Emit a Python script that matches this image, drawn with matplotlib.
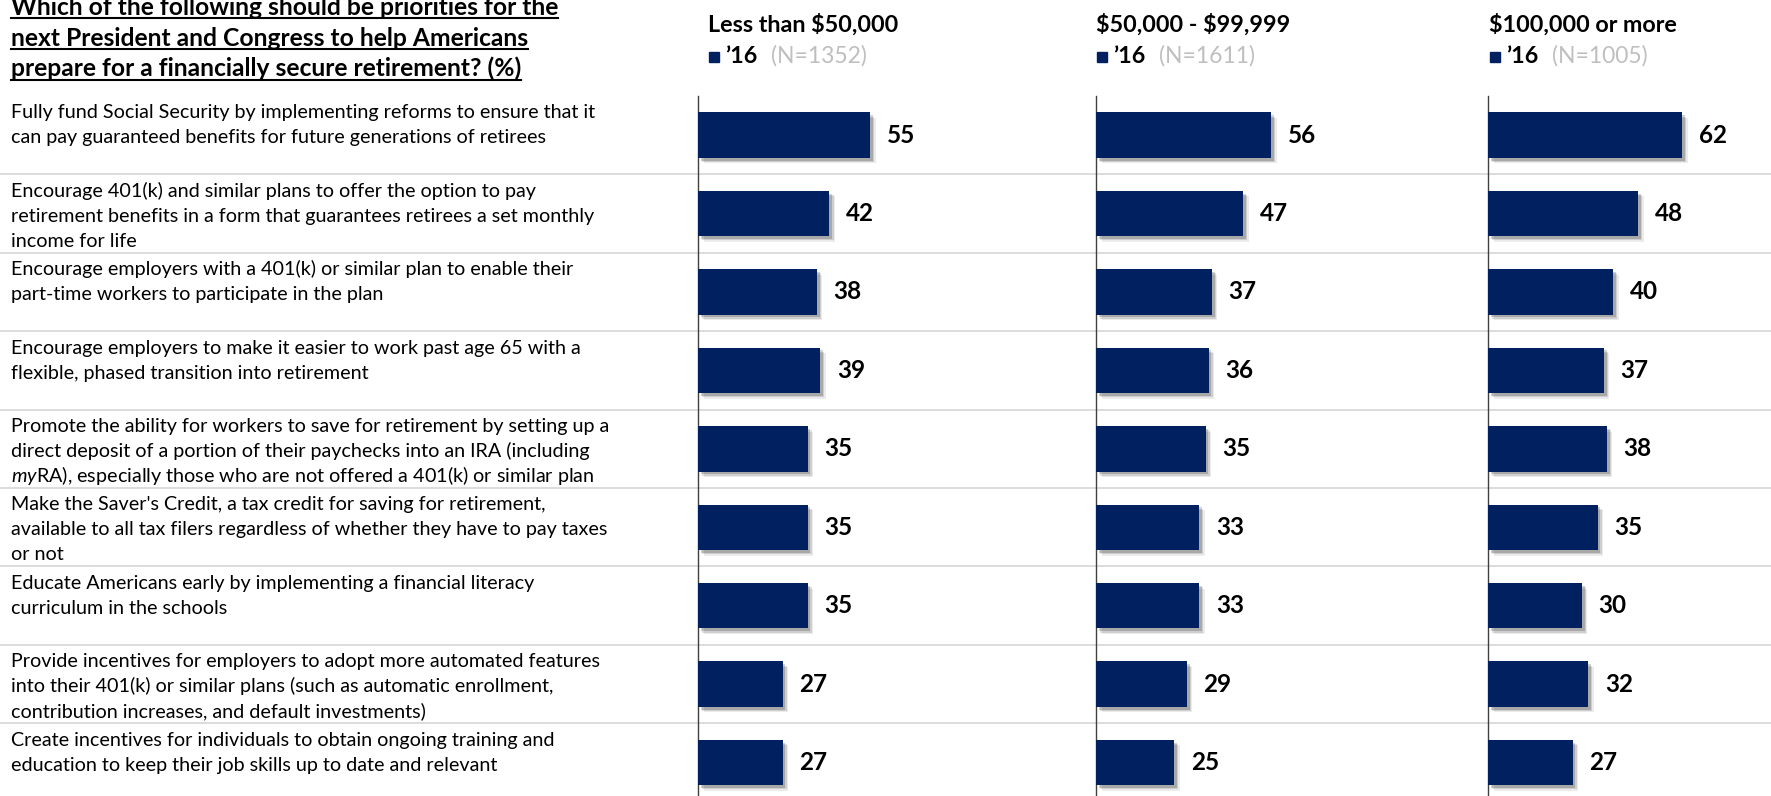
import matplotlib
matplotlib.use("Agg")
import matplotlib.pyplot as plt
import matplotlib.patheffects as pe
from matplotlib.lines import Line2D
from matplotlib.patches import Rectangle

# ---- data ----
title_lines = [
    "Which of the following should be priorities for the",
    "next President and Congress to help Americans",
    "prepare for a financially secure retirement? (%)",
]

categories = [
    "Fully fund Social Security by implementing reforms to ensure that it\ncan pay guaranteed benefits for future generations of retirees",
    "Encourage 401(k) and similar plans to offer the option to pay\nretirement benefits in a form that guarantees retirees a set monthly\nincome for life",
    "Encourage employers with a 401(k) or similar plan to enable their\npart-time workers to participate in the plan",
    "Encourage employers to make it easier to work past age 65 with a\nflexible, phased transition into retirement",
    "Promote the ability for workers to save for retirement by setting up a\ndirect deposit of a portion of their paychecks into an IRA (including\n$\\it{my}$RA), especially those who are not offered a 401(k) or similar plan",
    "Make the Saver's Credit, a tax credit for saving for retirement,\navailable to all tax filers regardless of whether they have to pay taxes\nor not",
    "Educate Americans early by implementing a financial literacy\ncurriculum in the schools",
    "Provide incentives for employers to adopt more automated features\ninto their 401(k) or similar plans (such as automatic enrollment,\ncontribution increases, and default investments)",
    "Create incentives for individuals to obtain ongoing training and\neducation to keep their job skills up to date and relevant",
]

panel_titles = ["Less than \\$50,000", "\\$50,000 - \\$99,999", "\\$100,000 or more"]
panel_year = "\u201916"
panel_n = ["(N=1352)", "(N=1611)", "(N=1005)"]

under_50k = [55, 42, 38, 39, 35, 35, 35, 27, 27]
from_50k_to_100k = [56, 47, 37, 36, 35, 33, 33, 29, 25]
over_100k = [62, 48, 40, 37, 38, 35, 30, 32, 27]
panel_values = [under_50k, from_50k_to_100k, over_100k]

# ---- styling ----
FONT = "Lato"
plt.rcParams["font.family"] = [FONT, "DejaVu Sans"]
plt.rcParams["mathtext.fontset"] = "custom"
plt.rcParams["mathtext.rm"] = FONT
plt.rcParams["mathtext.it"] = FONT + ":italic"

NAVY = "#002060"
GRID = "#d9d9d9"
GREY_TXT = "#bfbfbf"

W, H = 1771, 796
fig = plt.figure(figsize=(W / 100, H / 100), dpi=100)

def fx(px):
    return px / W

def fy(py):
    return 1 - py / H

row_top = 95.9
row_h = 78.43
n = len(categories)
ax_bottom = (H - (row_top + n * row_h)) / H
ax_height = n * row_h / H

# background axes for separators and category labels
bg = fig.add_axes([0, ax_bottom, 1, ax_height])
bg.set_xlim(0, 1)
bg.set_ylim(n - 0.5, -0.5)
bg.axis("off")
for k in range(n - 1):
    bg.axhline(k + 0.5, color=GRID, lw=1.3, zorder=0)
# each wrapped line placed on its own baseline (25 px apart)
for k, cat in enumerate(categories):
    for j, line in enumerate(cat.split("\n")):
        bg.text(fx(11), k - 0.5 + (22.4 + 25 * j) / row_h, line,
                ha="left", va="baseline", fontsize=14.2, color="black")

# bar panels
panel_left = [698, 1096, 1488]
px_per_unit = 3.13
shadow = [
    pe.SimplePatchShadow(offset=(4, -4), shadow_rgbFace="black", alpha=0.08),
    pe.SimplePatchShadow(offset=(3, -3), shadow_rgbFace="black", alpha=0.12),
    pe.SimplePatchShadow(offset=(2, -2), shadow_rgbFace="black", alpha=0.18),
    pe.Normal(),
]
rows = list(range(n))
for p, vals in enumerate(panel_values):
    ax = fig.add_axes([fx(panel_left[p]), ax_bottom, 100 * px_per_unit / W, ax_height])
    ax.patch.set_alpha(0)
    ax.set_xlim(0, 100)
    ax.set_ylim(n - 0.5, -0.5)
    bars = ax.barh(rows, vals, height=0.58, color=NAVY, zorder=3)
    for b in bars:
        b.set_path_effects(shadow)
    for r, v in zip(rows, vals):
        ax.annotate(str(v), (v, r), xytext=(12, 0), textcoords="offset points",
                    ha="left", va="center", fontsize=17.5, fontweight="bold",
                    color="black", annotation_clip=False)
    for s in ["top", "right", "bottom"]:
        ax.spines[s].set_visible(False)
    ax.spines["left"].set_color("#404040")
    ax.spines["left"].set_linewidth(1.0)
    ax.set_xticks([])
    ax.set_yticks([])

# panel headers and legend
header_x = [708, 1096, 1489]
for p in range(3):
    x0 = header_x[p]
    fig.text(fx(x0), fy(31.5), panel_titles[p], ha="left", va="baseline",
             fontsize=16.8, fontweight="bold")
    fig.patches.append(Rectangle((fx(x0 + 1), fy(62)), 10 / W, 10 / H,
                                 transform=fig.transFigure, color=NAVY))
    fig.text(fx(x0 + 17), fy(63), panel_year, ha="left", va="baseline",
             fontsize=16.8, fontweight="bold")
    fig.text(fx(x0 + 63), fy(63), panel_n[p], ha="left", va="baseline",
             fontsize=16.5, color=GREY_TXT)

# underlined title
title_base = [15.0, 46.0, 76.5]
title_texts = []
for line, b in zip(title_lines, title_base):
    t = fig.text(fx(11), fy(b), line, ha="left", va="baseline",
                 fontsize=17.7, fontweight="bold")
    title_texts.append((t, b))

fig.canvas.draw()
renderer = fig.canvas.get_renderer()
for t, b in title_texts:
    bb = t.get_window_extent(renderer)
    fig.add_artist(Line2D([bb.x0 / W, bb.x1 / W], [fy(b + 3)] * 2,
                          transform=fig.transFigure, color="black", lw=1.5))

fig.savefig("out.png", dpi=100)
